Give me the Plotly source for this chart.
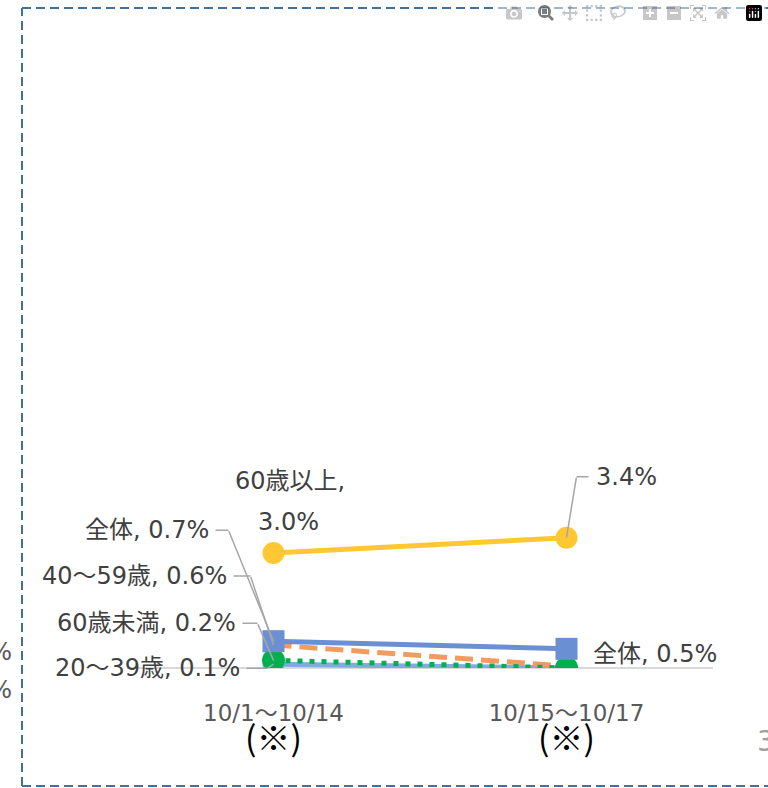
import plotly.graph_objects as go

# categories and values (%)
periods = ["10/1〜10/14", "10/15〜10/17"]
age_20_39 = [0.1, 0.0]
age_40_59 = [0.6, 0.05]
under_60 = [0.2, 0.0]
overall = [0.7, 0.5]
over_60 = [3.0, 3.4]

tick_text = [p + "<br><span style=\"font-size:34px;color:#000000;font-family:'Noto Sans CJK JP'\">(※)</span>"
             for p in periods]

FONT = "DejaVu Sans, Noto Sans CJK JP, sans-serif"
LABEL = "#404040"
LEADER = "#A6A6A6"

fig = go.Figure()

fig.add_trace(go.Scatter(
    x=periods, y=age_20_39, name="20〜39歳", mode="lines+markers",
    line=dict(color="#7EACE0", width=5),
    marker=dict(symbol="circle", size=22, color="#7EACE0"),
))
fig.add_trace(go.Scatter(
    x=periods, y=age_40_59, name="40〜59歳", mode="lines",
    line=dict(color="#F29B5E", width=5, dash="18px,8px"),
))
fig.add_trace(go.Scatter(
    x=periods, y=under_60, name="60歳未満", mode="lines+markers",
    line=dict(color="#00B050", width=5, dash="5px,7px"),
    marker=dict(symbol="circle", size=23, color="#00B050"),
))
fig.add_trace(go.Scatter(
    x=periods, y=overall, name="全体", mode="lines+markers",
    line=dict(color="#6A8FD3", width=5),
    marker=dict(symbol="square", size=22, color="#6A8FD3"),
))
fig.add_trace(go.Scatter(
    x=periods, y=over_60, name="60歳以上", mode="lines+markers",
    line=dict(color="#FFC832", width=5),
    marker=dict(symbol="circle", size=22, color="#FFC832"),
))


def leader_label(x, y, text, cx, cy, tail, anchor="right"):
    # label with an elbow leader: horizontal part to (cx, cy), then a diagonal to the point
    fig.add_annotation(x=x, y=y, text=text, xshift=cx, yshift=-cy, ax=tail, ay=0,
                       xanchor=anchor, showarrow=True, arrowhead=0, arrowwidth=1.5,
                       arrowcolor=LEADER, startstandoff=5,
                       font=dict(family=FONT, size=24, color=LABEL))
    fig.add_annotation(x=x, y=y, text=" ", ax=cx, ay=cy, showarrow=True, arrowhead=0,
                       arrowwidth=1.5, arrowcolor=LEADER, borderpad=0,
                       font=dict(size=1))


leader_label(periods[0], overall[0], f"全体, {overall[0]:.1f}%", -45, -111, -18)
leader_label(periods[0], age_40_59[0], f"40〜59歳, {age_40_59[0]:.1f}%", -23, -69, -22)
leader_label(periods[0], under_60[0], f"60歳未満, {under_60[0]:.1f}%", -16, -37, -20)
leader_label(periods[0], age_20_39[0], f"20〜39歳, {age_20_39[0]:.1f}%", -6, 4, -26)
leader_label(periods[1], over_60[1], f"{over_60[1]:.1f}%", 10, -61, 17, anchor="left")

# labels without leaders
plain = dict(font=dict(family=FONT, size=24, color=LABEL), showarrow=False)
fig.add_annotation(x=periods[0], y=over_60[0], text="60歳以上,", xshift=16, yshift=72, **plain)
fig.add_annotation(x=periods[0], y=over_60[0], text=f"{over_60[0]:.1f}%", xshift=15, yshift=31, **plain)
fig.add_annotation(x=periods[1], y=overall[1], text=f"全体, {overall[1]:.1f}%", xanchor="left",
                   xshift=24, yshift=-5, **plain)

# fragments of neighbouring slide content cut by the frame
frag = dict(font=dict(family=FONT, size=24, color="#595959"), showarrow=False,
            xref="paper", yref="paper", xanchor="right", yanchor="middle")
fig.add_annotation(x=(14 - 127) / 586, y=(668 - 652) / 613, text="1.0%", **frag)
fig.add_annotation(x=(14 - 127) / 586, y=(668 - 690) / 613, text="0.0%", **frag)
fig.add_annotation(x=(755 - 127) / 586, y=(668 - 741) / 613, text="3", showarrow=False,
                   xref="paper", yref="paper", xanchor="left", yanchor="middle",
                   font=dict(family=FONT, size=28, color="#A0A0A0"))

# dashed frame (left, top, bottom edges; right edge lies outside the view)
frame = dict(type="line", xref="paper", yref="paper", layer="below",
             line=dict(color="#41719C", width=2, dash="9px,5px"))
fx0, fx1 = (22 - 127) / 586, (790 - 127) / 586
fy0, fy1 = (668 - 786) / 613, (668 - 8) / 613
fig.add_shape(x0=fx0, x1=fx0, y0=fy0, y1=fy1, **frame)
fig.add_shape(x0=fx0, x1=fx1, y0=fy1, y1=fy1, **frame)
fig.add_shape(x0=fx0, x1=fx1, y0=fy0, y1=fy0, **frame)

fig.update_layout(
    width=768, height=788,
    margin=dict(l=127, r=55, t=55, b=120),
    paper_bgcolor="white", plot_bgcolor="white",
    showlegend=False,
    font=dict(family=FONT, size=21, color="#595959"),
    xaxis=dict(type="category", range=[-0.5, 1.5], tickvals=periods, ticktext=tick_text,
               showgrid=False, zeroline=False, showline=False, ticks="",
               ticklabelstandoff=29, tickfont=dict(size=23, color="#595959")),
    yaxis=dict(range=[0, 16], showgrid=False, zeroline=True, zerolinecolor="#D9D9D9",
               zerolinewidth=2, showticklabels=False, showline=False),
)

fig.write_html("out.html", post_script="document.body.style.margin='0';")
